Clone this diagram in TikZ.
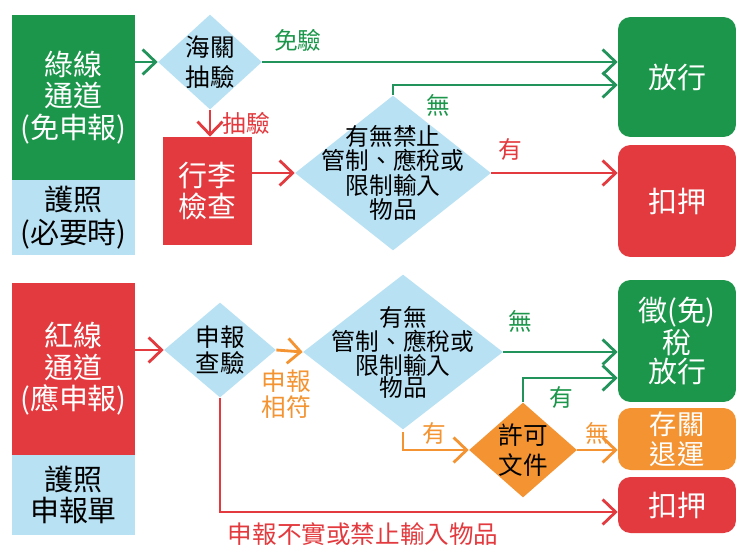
\documentclass[tikz,border=0pt]{standalone}
\usepackage{fontspec}
\newfontfamily\cjk{Noto Sans CJK TC}
\usetikzlibrary{arrows.meta,shapes.geometric}
\definecolor{grn}{HTML}{1B964A}
\definecolor{grnline}{HTML}{22935A}
\definecolor{rd}{HTML}{E23A3E}
\definecolor{lblue}{HTML}{B8E1F3}
\definecolor{orng}{HTML}{F39331}

\tikzset{
	box/.style={rectangle, inner sep=0pt, align=center, font=\cjk\fontsize{16.5}{18}\selectfont},
	endbox/.style={box, rounded corners=0.25cm, text=white, minimum width=2.36cm},
	dia/.style={diamond, inner sep=0pt, fill=lblue},
	diatext/.style={align=center, font=\cjk\fontsize{14}{16}\selectfont},
	lbl/.style={font=\cjk\fontsize{13.5}{15}\selectfont},
	flow/.style={line width=1.6pt, -{Straight Barb[length=2.6mm,width=5mm,line width=1.6pt]}},
}

\begin{document}
\begin{tikzpicture}[x=0.02cm, y=-0.02cm]
		%%%%% START %%%%%
		\useasboundingbox (0,0) rectangle (737,545);
		
		% green channel
		\node[box, fill=grn, text=white, minimum width=2.46cm, minimum height=3.3cm] (green) at (73.5,97.5) {綠線\\通道\\(免申報)};
		\node[box, fill=lblue, minimum width=2.46cm, minimum height=1.5cm, font=\cjk\fontsize{16.5}{19}\selectfont] (passA) at (73.5,217.5) {護照\\(必要時)};
		
		\node[dia, minimum width=2.08cm, minimum height=1.9cm] (spot) at (210,62) {};
		\node[diatext, font=\cjk\fontsize{14}{17}\selectfont] (spottxt) at (spot.center) {海關\\抽驗};
		
		\node[box, fill=rd, text=white, minimum width=1.78cm, minimum height=2.16cm] (bag) at (207.5,191) {行李\\檢查};
		
		\node[dia, minimum width=3.92cm, minimum height=3.1cm] (goods) at (393,173) {};
		\node[diatext, font=\cjk\fontsize{13.5}{14}\selectfont] (goodstxt) at (goods.center) {有無禁止\\管制、應稅或\\限制輸入\\物品};
		
		\node[endbox, fill=grn, minimum height=2.4cm] (release) at (677,77) {放行};
		\node[endbox, fill=rd, minimum height=2.24cm] (seizeA) at (677,201) {扣押};
		
		% red channel
		\node[box, fill=rd, text=white, minimum width=2.46cm, minimum height=3.44cm] (red) at (73.5,369) {紅線\\通道\\(應申報)};
		\node[box, fill=lblue, minimum width=2.46cm, minimum height=1.6cm] (passB) at (73.5,495) {護照\\申報單};
		
		\node[dia, minimum width=2.24cm, minimum height=1.9cm] (decl) at (220,350) {};
		\node[diatext, font=\cjk\fontsize{14}{14.5}\selectfont] (decltxt) at (decl.center) {申報\\查驗};
		
		\node[dia, minimum width=4.0cm, minimum height=3.1cm] (dutiable) at (403,352) {};
		\node[diatext, font=\cjk\fontsize{13.5}{12.5}\selectfont] (dutiabletxt) at (dutiable.center) {有無\\管制、應稅或\\限制輸入\\物品};
		
		\node[dia, fill=orng, minimum width=2.16cm, minimum height=1.9cm] (permit) at (523,450) {};
		\node[diatext, font=\cjk\fontsize{14}{17}\selectfont] (permittxt) at (permit.center) {許可\\文件};
		
		\node[endbox, fill=grn, minimum height=2.44cm, font=\cjk\fontsize{16.5}{16.5}\selectfont] (tax) at (677,341) {徵(免)\\稅\\放行};
		\node[endbox, fill=orng, minimum height=1.24cm, font=\cjk\fontsize{15.5}{17}\selectfont] (back) at (677,439) {存關\\退運};
		\node[endbox, fill=rd, minimum height=1.12cm] (seizeB) at (677,505) {扣押};
		
		% connectors
		\draw[flow, grnline] (green.east |- spot.west) -- (spot.west);
		\draw[flow, grnline] (spot.east) -- (release.west |- spot.east) node[lbl, pos=0.1, above=2pt, text=grn] {免驗};
		\draw[flow, rd] (spot.south) -- (spot.south |- bag.north) node[lbl, midway, right=3pt, text=rd] {抽驗};
		\draw[flow, rd] (bag.east |- goods.west) -- (goods.west);
		\draw[flow, grnline] (goods.north) |- ([yshift=-0.16cm]release.west) node[lbl, pos=0.6, below=1pt, text=grn] {無};
		\draw[flow, rd] (goods.east) -- (seizeA.west |- goods.east) node[lbl, pos=0.15, above=3pt, text=rd] {有};
		
		\draw[flow, rd] (red.east |- decl.west) -- (decl.west);
		\draw[flow, orng] (decl.east) -- (dutiable.west);
		\node[lbl, text=orng, align=center, font=\cjk\fontsize{14}{15}\selectfont] (match) at (286,394) {申報\\相符};
		\draw[flow, grnline] (dutiable.east) -- (tax.west |- dutiable.east) node[lbl, pos=0.15, above=7pt, text=grn] {無};
		\draw[flow, orng] ([yshift=-0.04cm]dutiable.south) |- (permit.west) node[lbl, pos=0.74, above=-1pt, text=orng] {有};
		\draw[flow, grnline] (permit.north) |- ([yshift=-0.74cm]tax.west) node[lbl, pos=0.7, below=1pt, text=grn] {有};
		\draw[flow, orng] (permit.east) -- (back.west |- permit.east) node[lbl, midway, above=-1pt, text=orng] {無};
		\draw[flow, rd] (decl.south) |- ([yshift=-0.14cm]seizeB.west) node[lbl, pos=0.68, below=2pt, text=rd, font=\cjk\fontsize{14}{15}\selectfont] {申報不實或禁止輸入物品};
		
		%%%%% END %%%%%
\end{tikzpicture}
\end{document}
